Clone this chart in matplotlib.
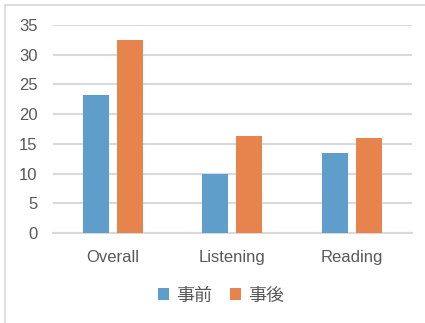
import matplotlib
matplotlib.use('Agg')
import matplotlib.pyplot as plt
import numpy as np
from matplotlib.lines import Line2D

categories = ['Overall', 'Listening', 'Reading']
series_names = ['事前', '事後']
before = [23.2, 9.9, 13.4]
after = [32.4, 16.3, 16.0]
colors = ['#5F9DCA', '#E7834D']

plt.rcParams['font.family'] = ['Liberation Sans', 'Noto Sans CJK JP', 'DejaVu Sans']

fig = plt.figure(figsize=(4.25, 3.23), dpi=100)
ax = fig.add_axes([0.1247, 0.2786, 0.844, 0.644])

x = np.arange(len(categories))
w = 0.217
off = 0.142
ax.bar(x - off, before, w, color=colors[0], label=series_names[0], zorder=3)
ax.bar(x + off, after, w, color=colors[1], label=series_names[1], zorder=3)

ax.set_xlim(-0.5, 2.5)
ax.set_ylim(0, 35)
ax.set_yticks(range(0, 36, 5))
ax.set_xticks(x)
ax.set_xticklabels(categories)
ax.grid(axis='y', color='#D9D9D9', linewidth=1.5, zorder=0)
for s in ['top', 'right', 'left']:
    ax.spines[s].set_visible(False)
ax.spines['bottom'].set_color('#D9D9D9')
ax.spines['bottom'].set_linewidth(1.5)
ax.tick_params(axis='y', length=0, pad=11, labelsize=12, labelcolor='#595959')
ax.tick_params(axis='x', length=0, pad=12.5, labelsize=12, labelcolor='#595959')

fig.legend(loc='center', bbox_to_anchor=(221 / 425, 1 - 296 / 323), ncol=2, frameon=False,
           fontsize=13, labelcolor='#595959', handlelength=0.6, handleheight=0.6,
           handletextpad=0.4, columnspacing=1.0)

# chart border (top and left edges visible)
fig.add_artist(Line2D([4.5 / 425, 4.5 / 425], [0, 1 - 4.5 / 323], transform=fig.transFigure, color='#D9D9D9', lw=1.2))
fig.add_artist(Line2D([4.5 / 425, 1], [1 - 4.5 / 323, 1 - 4.5 / 323], transform=fig.transFigure, color='#D9D9D9', lw=1.2))

fig.savefig('out.png', dpi=100)
